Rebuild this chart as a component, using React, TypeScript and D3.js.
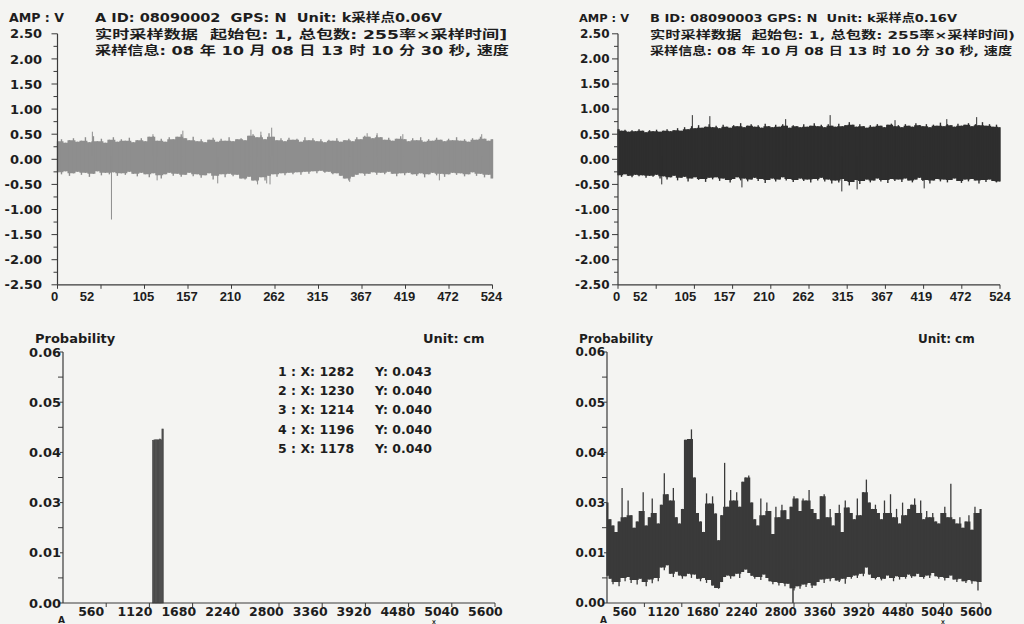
import React from 'react';
import * as d3 from 'd3';

/* ── Data ─────────────────────────────────────────────────────── */
const AMP_TICKS = [2.5, 2, 1.5, 1, 0.5, 0, -0.5, -1, -1.5, -2, -2.5];
const SAMPLE_TICK_LABELS = ['0', '52', '105', '157', '210', '262', '315', '367', '419', '472', '524'];
const SAMPLE_MAX = 524;
const PROB_TICK_LABELS = ['0.00', '0.01', '0.03', '0.04', '0.05', '0.06'];
const PROB_MAX = 0.06;
const DIST_TICK_LABELS = ['560', '1120', '1680', '2240', '2800', '3360', '3920', '4480', '5040', '5600'];
const DIST_MAX = 5600;

const headerA = [
  'A ID: 08090002  GPS: N  Unit: k采样点0.06V',
  '实时采样数据  起始包: 1, 总包数: 255率×采样时间]',
  '采样信息: 08 年 10 月 08 日 13 时 10 分 30 秒, 速度',
];
const headerB = [
  'B ID: 08090003 GPS: N  Unit: k采样点0.16V',
  '实时采样数据  起始包: 1, 总包数: 255率×采样时间)',
  '采样信息: 08 年 10 月 08 日 13 时 10 分 30 秒, 速度',
];

// channel A envelope (V), evenly sampled over 0..524
const waveAUpper = [
  0.36, 0.40, 0.33, 0.38, 0.42, 0.35, 0.37, 0.44, 0.34, 0.46,
  0.36, 0.41, 0.33, 0.39, 0.44, 0.35, 0.40, 0.37, 0.43, 0.34,
  0.38, 0.42, 0.36, 0.45, 0.46, 0.37, 0.41, 0.35, 0.44, 0.40,
  0.45, 0.50, 0.42, 0.38, 0.45, 0.36, 0.40, 0.34, 0.39, 0.43,
  0.35, 0.41, 0.37, 0.44, 0.36, 0.40, 0.42, 0.38, 0.47, 0.50,
  0.44, 0.48, 0.40, 0.52, 0.45, 0.38, 0.42, 0.36, 0.43, 0.39,
  0.41, 0.35, 0.44, 0.38, 0.42, 0.36, 0.40, 0.34, 0.39, 0.37,
  0.42, 0.35, 0.38, 0.41, 0.36, 0.44, 0.40, 0.47, 0.45, 0.42,
  0.48, 0.44, 0.39, 0.43, 0.37, 0.41, 0.46, 0.40, 0.36, 0.42,
  0.38, 0.44, 0.35, 0.40, 0.37, 0.43, 0.39, 0.36, 0.41, 0.38,
  0.44, 0.37, 0.40, 0.35, 0.42, 0.39, 0.45, 0.41, 0.37, 0.40,
];
const waveALower = [
  -0.26, -0.30, -0.24, -0.33, -0.28, -0.25, -0.31, -0.27, -0.35, -0.29,
  -0.24, -0.32, -0.27, -0.30, -0.26, -0.33, -0.28, -0.31, -0.25, -0.29,
  -0.34, -0.27, -0.30, -0.36, -0.28, -0.32, -0.38, -0.30, -0.27, -0.33,
  -0.29, -0.35, -0.31, -0.27, -0.34, -0.30, -0.37, -0.32, -0.28, -0.40,
  -0.33, -0.30, -0.36, -0.29, -0.34, -0.31, -0.38, -0.40, -0.35, -0.42,
  -0.44, -0.36, -0.42, -0.33, -0.30, -0.35, -0.28, -0.32, -0.27, -0.30,
  -0.26, -0.31, -0.25, -0.29, -0.24, -0.28, -0.23, -0.27, -0.25, -0.30,
  -0.28, -0.33, -0.38, -0.42, -0.35, -0.31, -0.28, -0.33, -0.29, -0.26,
  -0.31, -0.27, -0.30, -0.25, -0.29, -0.34, -0.28, -0.32, -0.27, -0.30,
  -0.33, -0.28, -0.36, -0.30, -0.27, -0.32, -0.29, -0.35, -0.30, -0.27,
  -0.31, -0.28, -0.34, -0.30, -0.26, -0.33, -0.29, -0.36, -0.31, -0.38,
];
const waveASpikes: [number, number][] = [
  [42, 0.55], [65, -1.2], [115, 0.5], [151, 0.57], [233, 0.59], [245, 0.55],
  [258, 0.63], [373, 0.52], [385, 0.52], [416, 0.5], [511, 0.5], [193, -0.48],
  [241, -0.5], [252, -0.48], [256, -0.5], [352, -0.45], [120, -0.42], [460, -0.42],
];

// channel B envelope (V)
const waveBUpper = [
  0.60, 0.57, 0.59, 0.55, 0.58, 0.56, 0.60, 0.57, 0.54, 0.58,
  0.56, 0.59, 0.55, 0.57, 0.60, 0.56, 0.58, 0.62, 0.57, 0.64,
  0.60, 0.66, 0.62, 0.68, 0.63, 0.65, 0.70, 0.64, 0.67, 0.62,
  0.69, 0.65, 0.63, 0.68, 0.66, 0.72, 0.64, 0.67, 0.70, 0.65,
  0.68, 0.63, 0.71, 0.66, 0.64, 0.69, 0.65, 0.70, 0.67, 0.63,
  0.68, 0.66, 0.64, 0.70, 0.65, 0.67, 0.72, 0.66, 0.69, 0.64,
  0.70, 0.67, 0.65, 0.71, 0.66, 0.68, 0.74, 0.69, 0.65, 0.70,
  0.66, 0.63, 0.68, 0.65, 0.70, 0.67, 0.64, 0.69, 0.71, 0.66,
  0.68, 0.64, 0.70, 0.67, 0.65, 0.72, 0.68, 0.66, 0.70, 0.64,
  0.69, 0.67, 0.73, 0.66, 0.70, 0.68, 0.65, 0.71, 0.67, 0.69,
  0.72, 0.66, 0.70, 0.68, 0.74, 0.67, 0.70, 0.65, 0.69, 0.64,
];
const waveBLower = [
  -0.32, -0.35, -0.30, -0.33, -0.36, -0.31, -0.34, -0.32, -0.37, -0.33,
  -0.35, -0.31, -0.38, -0.34, -0.40, -0.36, -0.33, -0.42, -0.37, -0.35,
  -0.44, -0.38, -0.36, -0.41, -0.39, -0.45, -0.37, -0.40, -0.36, -0.43,
  -0.38, -0.41, -0.46, -0.39, -0.36, -0.42, -0.38, -0.44, -0.40, -0.37,
  -0.43, -0.39, -0.47, -0.41, -0.38, -0.44, -0.40, -0.36, -0.42, -0.39,
  -0.45, -0.41, -0.38, -0.43, -0.40, -0.46, -0.39, -0.42, -0.37, -0.44,
  -0.40, -0.48, -0.42, -0.46, -0.39, -0.43, -0.52, -0.45, -0.41, -0.49,
  -0.43, -0.40, -0.46, -0.42, -0.38, -0.44, -0.41, -0.47, -0.39, -0.43,
  -0.40, -0.45, -0.38, -0.42, -0.46, -0.40, -0.37, -0.43, -0.41, -0.48,
  -0.42, -0.39, -0.44, -0.40, -0.46, -0.41, -0.38, -0.43, -0.47, -0.40,
  -0.44, -0.39, -0.42, -0.48, -0.41, -0.45, -0.40, -0.43, -0.46, -0.44,
];
const waveBSpikes: [number, number][] = [
  [102, 0.88], [126, 0.86], [291, 0.88], [451, 0.8], [492, 0.84], [230, 0.8],
  [380, 0.78], [307, -0.64], [328, -0.6], [60, -0.5], [170, -0.56], [420, -0.58],
];

// channel A distance histogram: bin start (cm), probability
const histABins = [1160, 1178, 1196, 1214, 1230, 1248, 1264, 1282];
const histAProb = [0.0388, 0.039, 0.039, 0.039, 0.039, 0.0392, 0.039, 0.0416];
const HIST_BIN = 18;
const peaksA = [
  { x: 1282, y: 0.043 },
  { x: 1230, y: 0.04 },
  { x: 1214, y: 0.04 },
  { x: 1196, y: 0.04 },
  { x: 1178, y: 0.04 },
];

// channel B distance distribution envelope, evenly sampled over 0..5600
const distBUpper = [
  0.0240, 0.0200, 0.0185, 0.0170, 0.0195, 0.0275, 0.0205, 0.0245, 0.0210, 0.0180,
  0.0195, 0.0220, 0.0265, 0.0185, 0.0205, 0.0250, 0.0215, 0.0190, 0.0235, 0.0310,
  0.0260, 0.0245, 0.0275, 0.0205, 0.0190, 0.0225, 0.0390, 0.0392, 0.0415, 0.0300,
  0.0215, 0.0195, 0.0170, 0.0262, 0.0238, 0.0255, 0.0214, 0.0150, 0.0210, 0.0335,
  0.0230, 0.0270, 0.0245, 0.0265, 0.0230, 0.0290, 0.0300, 0.0305, 0.0240, 0.0200,
  0.0185, 0.0250, 0.0210, 0.0240, 0.0220, 0.0165, 0.0230, 0.0205, 0.0235, 0.0222,
  0.0200, 0.0230, 0.0255, 0.0250, 0.0220, 0.0250, 0.0245, 0.0270, 0.0225, 0.0215,
  0.0200, 0.0255, 0.0260, 0.0205, 0.0225, 0.0185, 0.0215, 0.0235, 0.0170, 0.0245,
  0.0228, 0.0215, 0.0200, 0.0250, 0.0210, 0.0265, 0.0295, 0.0240, 0.0225, 0.0235,
  0.0215, 0.0200, 0.0245, 0.0215, 0.0260, 0.0205, 0.0225, 0.0190, 0.0240, 0.0210,
  0.0225, 0.0235, 0.0250, 0.0215, 0.0245, 0.0200, 0.0220, 0.0205, 0.0215, 0.0195,
  0.0190, 0.0215, 0.0230, 0.0205, 0.0285, 0.0200, 0.0190, 0.0205, 0.0180, 0.0195,
  0.0210, 0.0175, 0.0230, 0.0215, 0.0225,
];
const distBLower = [
  0.0065, 0.0058, 0.0045, 0.0050, 0.0040, 0.0060, 0.0052, 0.0062, 0.0048, 0.0055,
  0.0044, 0.0058, 0.0050, 0.0040, 0.0056, 0.0047, 0.0060, 0.0052, 0.0085, 0.0078,
  0.0090, 0.0070, 0.0062, 0.0075, 0.0066, 0.0058, 0.0064, 0.0070, 0.0060, 0.0068,
  0.0058, 0.0052, 0.0060, 0.0048, 0.0055, 0.0042, 0.0036, 0.0034, 0.0050, 0.0062,
  0.0066, 0.0058, 0.0064, 0.0070, 0.0060, 0.0074, 0.0080, 0.0072, 0.0065, 0.0058,
  0.0062, 0.0055, 0.0068, 0.0060, 0.0052, 0.0045, 0.0050, 0.0042, 0.0048, 0.0040,
  0.0046, 0.0035, 0.0030, 0.0040, 0.0034, 0.0044, 0.0038, 0.0048, 0.0036, 0.0042,
  0.0050, 0.0056, 0.0048, 0.0058, 0.0052, 0.0060, 0.0054, 0.0050, 0.0058, 0.0046,
  0.0062, 0.0058, 0.0066, 0.0060, 0.0070, 0.0064, 0.0085, 0.0068, 0.0060, 0.0056,
  0.0062, 0.0054, 0.0058, 0.0066, 0.0060, 0.0052, 0.0064, 0.0056, 0.0062, 0.0058,
  0.0068, 0.0060, 0.0064, 0.0070, 0.0062, 0.0058, 0.0066, 0.0060, 0.0072, 0.0064,
  0.0058, 0.0062, 0.0054, 0.0060, 0.0066, 0.0056, 0.0050, 0.0058, 0.0052, 0.0048,
  0.0055, 0.0046, 0.0052, 0.0030, 0.0050,
];
const distBSpikes: [number, number][] = [[2785, 0]];

/* ── Styling ──────────────────────────────────────────────────── */
const W = 1024;
const H = 624;
const BG = '#f4f4f2';
const INK = '#1d1d1d';
const AXIS = '#3a3a3a';
const FONT = "'DejaVu Sans', 'Noto Sans CJK SC', sans-serif";
const FONT_X = "'Liberation Sans', Arial, sans-serif";

// Noisy band: a stepped body (neighbour median) with a thin hair at every sample on top
const NoisyBand: React.FC<{
  upper: number[]; lower: number[]; sx: (i: number) => number;
  y: (v: number) => number; color: string; hair: number;
}> = ({ upper, lower, sx, y, color, hair }) => {
  const n = upper.length;
  const near = (arr: number[], i: number) => [arr[Math.max(0, i - 1)], arr[i], arr[Math.min(n - 1, i + 1)]];
  const body = d3.area<number>()
    .x((_, i) => sx(i))
    .y0((_, i) => y(Math.max(d3.median(near(lower, i))!, lower[i])))
    .y1((_, i) => y(Math.min(d3.median(near(upper, i))!, upper[i])))
    .curve(d3.curveStep)(upper) || '';
  return (
    <g>
      <path d={body} fill={color} />
      {upper.map((u, i) => (
        <line key={i} x1={sx(i)} x2={sx(i)} y1={y(lower[i])} y2={y(u)} stroke={color} strokeWidth={hair} />
      ))}
    </g>
  );
};

/* ── Amplitude panel ──────────────────────────────────────────── */
interface WaveProps {
  x0: number; x1: number;
  upper: number[]; lower: number[]; spikes: [number, number][];
  color: string; fs: number; labelEnd: number;
  labelDx: (k: number) => number;
  header: string[]; ampX: number; ampW: number; headX: number; headW: number[];
}

const WavePanel: React.FC<WaveProps> = ({
  x0, x1, upper, lower, spikes, color, fs, labelEnd, labelDx, header, ampX, ampW, headX, headW,
}) => {
  const x = d3.scaleLinear().domain([0, SAMPLE_MAX]).range([x0, x1]);
  const y = d3.scaleLinear().domain([-2.5, 2.5]).range([284.8, 33.8]);
  const n = upper.length;
  const sx = (i: number) => x((i * SAMPLE_MAX) / (n - 1));
  const minor = d3.range(-2.25, 2.5, 0.5);
  const step = SAMPLE_MAX / (SAMPLE_TICK_LABELS.length - 1);

  return (
    <g>
      <text x={ampX} y={22} fontFamily={FONT} fontWeight="bold" fontSize={fs - 1} fill={INK}
        textLength={ampW} lengthAdjust="spacingAndGlyphs" style={{ whiteSpace: 'pre' }}>AMP : V</text>
      {header.map((t, i) => (
        <text key={i} x={headX} y={22 + i * 16.5} fontFamily={FONT} fontWeight="bold" fontSize={fs - 1}
          fill={INK} textLength={headW[i]} lengthAdjust="spacingAndGlyphs" style={{ whiteSpace: 'pre' }}>{t}</text>
      ))}

      <NoisyBand upper={upper} lower={lower} sx={sx} y={y} color={color} hair={1.4} />
      {spikes.map(([s, v], i) => (
        <line key={i} x1={x(s)} x2={x(s)} y1={y(0.05)} y2={y(v)} stroke={color} strokeWidth={1} />
      ))}

      <line x1={x0} x2={x0} y1={y(2.5)} y2={y(-2.5)} stroke={AXIS} strokeWidth={1.2} />
      <line x1={x0} x2={x1} y1={y(-2.5)} y2={y(-2.5)} stroke={AXIS} strokeWidth={1.2} />
      {AMP_TICKS.map(v => (
        <g key={v}>
          <line x1={x0 - 6} x2={x0} y1={y(v)} y2={y(v)} stroke={AXIS} />
          <text x={labelEnd} y={y(v)} dy="0.36em" textAnchor="end" fontFamily={FONT}
            fontWeight="bold" fontSize={fs} fill={INK}>{v.toFixed(2)}</text>
        </g>
      ))}
      {minor.map(v => (
        <line key={v} x1={x0 - 4} x2={x0} y1={y(v)} y2={y(v)} stroke={AXIS} />
      ))}
      {SAMPLE_TICK_LABELS.map((t, k) => (
        <g key={t}>
          <line x1={x(k * step)} x2={x(k * step)} y1={y(-2.5)} y2={y(-2.5) + 4} stroke={AXIS} />
          <text x={x(k * step) + labelDx(k)} y={301} textAnchor="middle" fontFamily={FONT_X}
            fontWeight="bold" fontSize={13} fill={INK}>{t}</text>
        </g>
      ))}
    </g>
  );
};

/* ── Probability panel ────────────────────────────────────────── */
interface ProbProps {
  x0: number; x1: number; fs: number; labelDx: (k: number) => number;
  probX: number; unitX: number; aX: number; xX: number;
  children: (x: d3.ScaleLinear<number, number>, y: d3.ScaleLinear<number, number>) => React.ReactNode;
}

const ProbPanel: React.FC<ProbProps> = ({ x0, x1, fs, labelDx, probX, unitX, aX, xX, children }) => {
  const x = d3.scaleLinear().domain([0, DIST_MAX]).range([x0, x1]);
  const y = d3.scaleLinear().domain([0, PROB_MAX]).range([603, 352]);
  const stepP = PROB_MAX / (PROB_TICK_LABELS.length - 1);
  return (
    <g>
      <text x={probX} y={343} fontFamily={FONT} fontWeight="bold" fontSize={fs} fill={INK}>Probability</text>
      <text x={unitX} y={343} fontFamily={FONT} fontWeight="bold" fontSize={fs} fill={INK}>Unit: cm</text>

      {children(x, y)}

      <line x1={x0} x2={x0} y1={y(PROB_MAX)} y2={y(0)} stroke={AXIS} strokeWidth={1.2} />
      <line x1={x0} x2={x1} y1={y(0)} y2={y(0)} stroke={AXIS} strokeWidth={1.2} />
      {PROB_TICK_LABELS.map((t, k) => (
        <g key={t}>
          <line x1={x0 - 3} x2={x0} y1={y(k * stepP)} y2={y(k * stepP)} stroke={AXIS} />
          <text x={x0 - 2} y={y(k * stepP)} dy="0.36em" textAnchor="end" fontFamily={FONT}
            fontWeight="bold" fontSize={fs} fill={INK}>{t}</text>
          {k < PROB_TICK_LABELS.length - 1 && (
            <line x1={x0 - 5} x2={x0} y1={y((k + 0.5) * stepP)} y2={y((k + 0.5) * stepP)} stroke={AXIS} />
          )}
        </g>
      ))}
      {DIST_TICK_LABELS.map((t, k) => {
        const v = +t;
        return (
          <g key={t}>
            <line x1={x(v)} x2={x(v)} y1={y(0)} y2={y(0) + 4} stroke={AXIS} />
            <text x={x(v) + labelDx(k)} y={616} textAnchor="middle" fontFamily={FONT}
              fontWeight="bold" fontSize={fs - 0.5} fill={INK}>{t}</text>
          </g>
        );
      })}
      <text x={aX} y={623} fontFamily={FONT} fontWeight="bold" fontSize={9} fill={INK}>A</text>
      <text x={xX} y={624} fontFamily={FONT} fontWeight="bold" fontSize={5} fill={INK}>X</text>
    </g>
  );
};

/* ── App ──────────────────────────────────────────────────────── */
export default function App() {
  return (
    <div style={{ position: 'fixed', left: 0, top: 0, width: W, height: H }}>
      <svg width={W} height={H} style={{ display: 'block' }}>
        <rect width={W} height={H} fill={BG} />

        <WavePanel
          x0={57.5} x1={492.5} upper={waveAUpper} lower={waveALower} spikes={waveASpikes}
          color="#8e8e8e" fs={13} labelEnd={42}
          labelDx={k => (k === 0 ? -3 : k === 1 ? -14 : -1)}
          header={headerA} ampX={9} ampW={55} headX={95} headW={[347, 412, 414]}
        />
        <WavePanel
          x0={618} x1={1000} upper={waveBUpper} lower={waveBLower} spikes={waveBSpikes}
          color="#2e2e2e" fs={12} labelEnd={609.5}
          labelDx={k => (k === 0 ? -1.5 : k === 1 ? -16 : (-9 * (10 - k)) / 8)}
          header={headerB} ampX={579} ampW={50} headX={650} headW={[307, 365, 362]}
        />

        <ProbPanel x0={63} x1={495} fs={13} labelDx={k => -15 + k * 0.6}
          probX={35} unitX={423} aX={58} xX={432}>
          {(x, y) => (
            <g>
              {histABins.map((b, i) => (
                <rect key={b} x={x(b)} width={x(b + HIST_BIN) - x(b)} y={y(histAProb[i])}
                  height={y(0) - y(histAProb[i])} fill="#4c4c4c" stroke="#4c4c4c" strokeWidth={0.6} />
              ))}
              {peaksA.map((p, i) => (
                <g key={i} fontFamily={FONT} fontWeight="bold" fontSize={12.5} fill={INK}>
                  <text x={278} y={376 + i * 19.2} style={{ whiteSpace: 'pre' }}>{`${i + 1} : X: ${p.x}`}</text>
                  <text x={375} y={376 + i * 19.2}>{`Y: ${p.y.toFixed(3)}`}</text>
                </g>
              ))}
            </g>
          )}
        </ProbPanel>

        <ProbPanel x0={607} x1={981} fs={12} labelDx={k => -20 + k * 1.67}
          probX={579} unitX={918} aX={600} xX={941}>
          {(x, y) => {
            const n = distBUpper.length;
            const sx = (i: number) => x((i * DIST_MAX) / (n - 1));
            return (
              <g>
                <NoisyBand upper={distBUpper} lower={distBLower} sx={sx} y={y} color="#3a3a3a" hair={1.3} />
                {distBSpikes.map(([d, p], i) => (
                  <line key={i} x1={x(d)} x2={x(d)} y1={y(0.008)} y2={y(p)} stroke="#3a3a3a" strokeWidth={1.5} />
                ))}
              </g>
            );
          }}
        </ProbPanel>
      </svg>
    </div>
  );
}
